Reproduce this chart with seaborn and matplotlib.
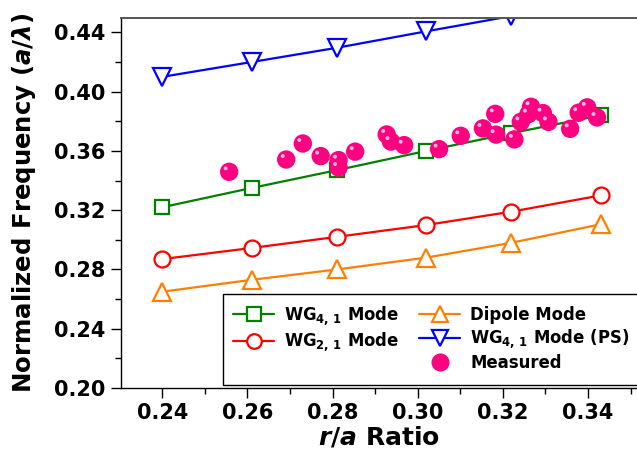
import numpy as np
import pandas as pd
import matplotlib
matplotlib.use("Agg")
import matplotlib.pyplot as plt
from matplotlib.lines import Line2D
from matplotlib.ticker import MultipleLocator, FormatStrFormatter
from matplotlib.transforms import ScaledTranslation
import seaborn as sns

# r/a ratios at which the modes were computed
r_a = [0.240, 0.261, 0.281, 0.302, 0.322, 0.343]

# simulated normalized frequencies (a/lambda)
wg41 = [0.322, 0.335, 0.347, 0.360, 0.372, 0.384]
wg21 = [0.287, 0.2945, 0.302, 0.310, 0.319, 0.330]
dipole = [0.265, 0.273, 0.280, 0.288, 0.298, 0.3105]
r_a_ps = [0.240, 0.261, 0.281, 0.302, 0.322]
wg41_ps = [0.410, 0.420, 0.4296, 0.4407, 0.451]

# measured resonances
meas_r_a = [0.2557, 0.2691, 0.2730, 0.2772, 0.2814, 0.2814, 0.2853, 0.2927,
            0.2937, 0.2968, 0.3050, 0.3101, 0.3153, 0.3182, 0.3184, 0.3227,
            0.3242, 0.3266, 0.3260, 0.3294, 0.3307, 0.3358, 0.3378, 0.3398,
            0.3421]
meas_freq = [0.3459, 0.3542, 0.3650, 0.3565, 0.3538, 0.3488, 0.3595, 0.3711,
             0.3663, 0.3639, 0.3612, 0.3702, 0.3752, 0.3850, 0.3710, 0.3678,
             0.3796, 0.3898, 0.3848, 0.3855, 0.3796, 0.3749, 0.3858, 0.3894,
             0.3826]

x_ticks = [0.24, 0.26, 0.28, 0.30, 0.32, 0.34]
y_ticks = [0.20, 0.24, 0.28, 0.32, 0.36, 0.40, 0.44]

sns.set_theme(style="ticks")
plt.rcParams["font.family"] = ["DejaVu Sans"]
plt.rcParams["font.weight"] = "bold"
plt.rcParams["text.color"] = "black"
plt.rcParams["axes.labelcolor"] = "black"
plt.rcParams["mathtext.fontset"] = "custom"
plt.rcParams["mathtext.rm"] = "DejaVu Sans:bold"
plt.rcParams["mathtext.bf"] = "DejaVu Sans:bold"
plt.rcParams["mathtext.it"] = "DejaVu Sans:bold:italic"

GREEN = "#008000"
RED = "#ff0000"
ORANGE = "#ff8000"
BLUE = "#0000ff"
PINK = "#ff0080"

fig = plt.figure(figsize=(6.37, 4.57), dpi=100)
ax = fig.add_axes([0.190, 0.151, 0.810, 0.8096])

lw = 1.6
mew = 1.6
common = dict(linewidth=lw, markerfacecolor="white", markeredgewidth=mew,
              legend=False, estimator=None, sort=False)

sns.lineplot(x=r_a, y=wg41, ax=ax, color=GREEN, marker="s", markersize=10.5,
             markeredgecolor=GREEN, **common)
sns.lineplot(x=r_a, y=wg21, ax=ax, color=RED, marker="o", markersize=11.5,
             markeredgecolor=RED, **common)
sns.lineplot(x=r_a, y=dipole, ax=ax, color=ORANGE, marker="^", markersize=13,
             markeredgecolor=ORANGE, **common)
sns.lineplot(x=r_a_ps, y=wg41_ps, ax=ax, color=BLUE, marker="v", markersize=13,
             markeredgecolor=BLUE, **common)

# measured points, with a small glint on each bead
sns.scatterplot(x=meas_r_a, y=meas_freq, ax=ax, color=PINK, s=175,
                edgecolor="none", linewidth=0, legend=False, zorder=5)
glint = ax.transData + ScaledTranslation(-2.5 / 72, 2.5 / 72, fig.dpi_scale_trans)
ax.scatter(meas_r_a, meas_freq, s=8, color="#ffb8e0", edgecolor="none",
           transform=glint, zorder=6)

ax.set_xlim(0.2303, 0.3515)
ax.set_ylim(0.20, 0.4497)
ax.set_xticks(x_ticks)
ax.set_yticks(y_ticks)
ax.xaxis.set_minor_locator(MultipleLocator(0.01))
ax.yaxis.set_minor_locator(MultipleLocator(0.02))
ax.xaxis.set_major_formatter(FormatStrFormatter("%.2f"))
ax.yaxis.set_major_formatter(FormatStrFormatter("%.2f"))
ax.tick_params(axis="both", which="major", direction="out", length=7, width=1,
               labelsize=15, colors="black", pad=4)
ax.tick_params(axis="both", which="minor", direction="out", length=4, width=1,
               colors="black")
for lab in ax.get_xticklabels() + ax.get_yticklabels():
    lab.set_fontweight("bold")

for side in ["left", "bottom"]:
    ax.spines[side].set_color("black")
    ax.spines[side].set_linewidth(1.0)
ax.spines["top"].set_color("#555555")
ax.spines["top"].set_linewidth(1.4)
ax.spines["right"].set_visible(False)

ax.set_xlabel(r"$r/a$ Ratio", fontsize=18, fontweight="bold", labelpad=1)
ax.set_ylabel(r"Normalized Frequency ($a/\lambda$)", fontsize=17.6,
              fontweight="bold", labelpad=12)

def mode_handle(color, marker, size):
    return Line2D([], [], color=color, linewidth=lw, marker=marker,
                  markersize=size, markerfacecolor="white",
                  markeredgecolor=color, markeredgewidth=mew)

handles = [
    mode_handle(GREEN, "s", 9.5),
    mode_handle(RED, "o", 10.5),
    Line2D([], [], linestyle="none"),
    mode_handle(ORANGE, "^", 12),
    mode_handle(BLUE, "v", 12),
    Line2D([], [], linestyle="none", marker="o", markersize=12,
           color=PINK, markeredgecolor=PINK),
]
labels = [
    r"WG$_{4,\,1}$ Mode",
    r"WG$_{2,\,1}$ Mode",
    "",
    "Dipole Mode",
    r"WG$_{4,\,1}$ Mode (PS)",
    "Measured",
]
leg = ax.legend(handles, labels, ncol=2, loc="upper left",
                bbox_to_anchor=(223 / 637, 1 - 294 / 457),
                bbox_transform=fig.transFigure,
                frameon=True, fancybox=False, shadow=False, framealpha=1,
                edgecolor="black", prop={"weight": "bold", "size": 11.9},
                handlelength=2.5, handletextpad=0.6, columnspacing=1.2,
                labelspacing=0.22, borderpad=0.6, borderaxespad=0)
leg.get_frame().set_linewidth(1.0)

fig.savefig("out.png", dpi=100)
